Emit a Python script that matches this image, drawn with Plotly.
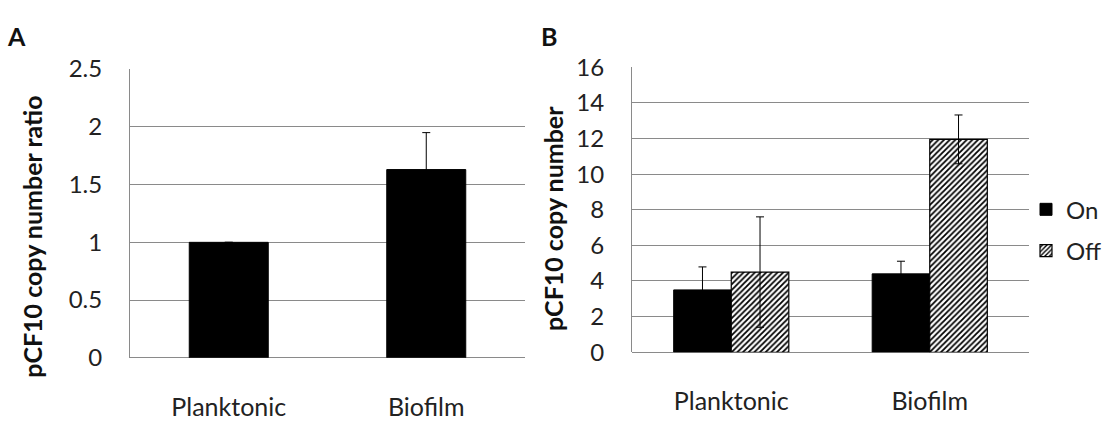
import plotly.graph_objects as go

# Panel A data
cats = ["Planktonic", "Biofilm"]
ratio = [1.0, 1.63]
ratio_err = [None, 0.32]

# Panel B data
on_vals = [3.5, 4.4]
on_err = [1.29, 0.71]
off_vals = [4.5, 11.95]
off_err = [3.1, 1.37]

a_ticks = [0, 0.5, 1, 1.5, 2, 2.5]
a_ticklabels = ["0", "0.5", "1", "1.5", "2", "2.5"]
b_ticks = [0, 2, 4, 6, 8, 10, 12, 14, 16]

FONT = "Lato"
GRID = "#8a8a8a"
TXT = "#222"

fig = go.Figure()

fig.add_trace(go.Bar(
    x=cats, y=ratio, width=0.4, xaxis="x", yaxis="y",
    marker=dict(color="black", line=dict(color="black", width=1)),
    error_y=dict(type="data", array=ratio_err, symmetric=True, color="black", thickness=1, width=4),
    showlegend=False,
))

fig.add_trace(go.Bar(
    x=cats, y=on_vals, name="On", xaxis="x2", yaxis="y2", legendgroup="on",
    marker=dict(color="black", line=dict(color="black", width=1)),
    error_y=dict(type="data", array=on_err, symmetric=True, color="black", thickness=1, width=4),
))
fig.add_trace(go.Bar(
    x=cats, y=off_vals, name="Off", xaxis="x2", yaxis="y2", legendgroup="off",
    marker=dict(color="white", line=dict(color="black", width=1.2),
                pattern=dict(shape="/", fgcolor="black", bgcolor="white", size=4,
                             solidity=0.45, fgopacity=1)),
    error_y=dict(type="data", array=off_err, symmetric=True, color="black", thickness=1, width=4),
))

common_x = dict(showgrid=False, showline=False, zeroline=False, ticks="outside", ticklen=27,
                tickcolor="rgba(0,0,0,0)", tickfont=dict(family=FONT, size=25, color=TXT),
                fixedrange=True)
common_y = dict(showgrid=True, gridcolor=GRID, gridwidth=1, zeroline=True, zerolinecolor=GRID,
                zerolinewidth=1, showline=True, linecolor=GRID, linewidth=1, ticks="outside",
                ticklen=22, tickcolor="rgba(0,0,0,0)", tickfont=dict(family=FONT, size=24, color=TXT))

fig.update_layout(
    width=1119, height=423,
    margin=dict(l=0, r=0, t=0, b=0),
    paper_bgcolor="white", plot_bgcolor="white",
    barmode="group", bargap=0.42, bargroupgap=0,
    xaxis=dict(domain=[130/1119, 525/1119], anchor="y", **common_x),
    yaxis=dict(domain=[1-367/423, 1-57/423], range=[0, 2.5], tickvals=a_ticks,
               ticktext=a_ticklabels, anchor="x", **common_y),
    xaxis2=dict(domain=[632/1119, 1029/1119], anchor="y2", **common_x),
    yaxis2=dict(domain=[1-361/423, 1-55/423], range=[0, 16], tickvals=b_ticks,
                anchor="x2", **common_y),
    legend=dict(x=1026/1119, y=1-230/423, xanchor="left", yanchor="middle",
                font=dict(family=FONT, size=24, color=TXT), bgcolor="rgba(0,0,0,0)",
                tracegroupgap=7, itemwidth=30),
    showlegend=True,
    annotations=[
        dict(text="<b>A</b>", x=16/1119, y=1-22/423, xref="paper", yref="paper",
             xanchor="center", yanchor="middle", showarrow=False,
             font=dict(family=FONT, size=25, color="#111")),
        dict(text="<b>B</b>", x=549/1119, y=1-22/423, xref="paper", yref="paper",
             xanchor="center", yanchor="middle", showarrow=False,
             font=dict(family=FONT, size=25, color="#111")),
        dict(text="<b>pCF10 copy number ratio</b>", x=32/1119, y=1-237/423, xref="paper",
             yref="paper", xanchor="center", yanchor="middle", textangle=-90, showarrow=False,
             font=dict(family=FONT, size=25, color="#111")),
        dict(text="<b>pCF10 copy number</b>", x=553/1119, y=1-218/423, xref="paper",
             yref="paper", xanchor="center", yanchor="middle", textangle=-90, showarrow=False,
             font=dict(family=FONT, size=25, color="#111")),
    ],
)

fig.write_html("out.html")
